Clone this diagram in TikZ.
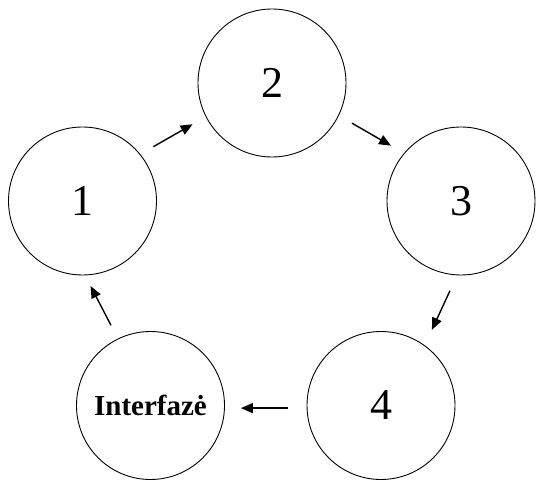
\documentclass[tikz,border=0pt]{standalone}
\usepackage{fontspec}
\setmainfont{Liberation Serif}
\usetikzlibrary{arrows.meta}

\begin{document}
\begin{tikzpicture}[
  x=1pt, y=1pt,
  phase/.style={circle, draw=black, line width=0.9pt, minimum size=148pt,
                inner sep=0pt, font=\fontsize{44}{48}\selectfont},
  interphase/.style={phase, font=\fontsize{29}{32}\selectfont\bfseries},
  cyc/.style={-{Triangle[length=12pt, width=10pt]}, line width=1.4pt, black,
              shorten >=15pt, shorten <=15pt}
]
\useasboundingbox (0,0) rectangle (536,480);

% Phases of the cycle
\node[phase] (one) at (82.5,279) {1};
\node[phase] (two) at (272,397) {2};
\node[phase] (three) at (461,279) {3};
\node[phase] (four) at (381,74.5) {4};
\node[interphase] (inter) at (150.5,74.5) {Interfazė};

% Arrows around the cycle
\draw[cyc] (one.39) -- (two.207);
\draw[cyc] (two.-26) -- (three.140);
\draw[cyc, shorten <=17pt, shorten >=17pt] (three.267) -- (four.54);
\draw[cyc, shorten <=19pt, shorten >=16pt] (four.182) -- (inter.-2);
\draw[cyc, shorten >=12pt] (inter.116) -- (one.272);

\end{tikzpicture}
\end{document}
